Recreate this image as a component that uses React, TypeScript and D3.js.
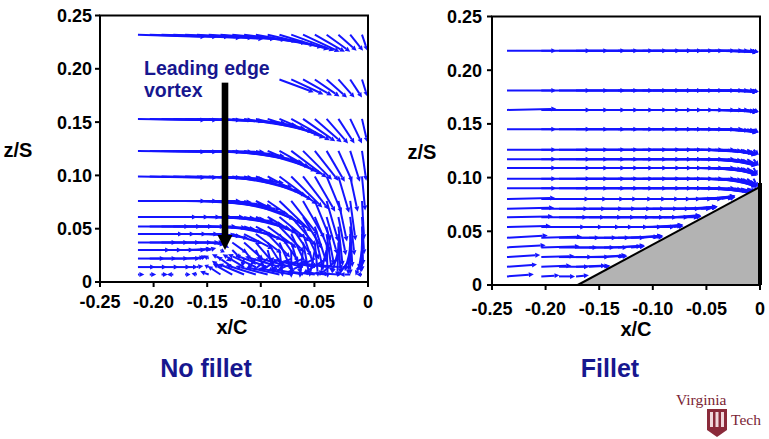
import React from "react";
import * as d3 from "d3";

// ---------- axis ticks ----------
const X_TICKS = [-0.25, -0.2, -0.15, -0.1, -0.05, 0];
const X_TICK_LABELS = ["-0.25", "-0.20", "-0.15", "-0.10", "-0.05", "0"];
const Z_TICKS = [0, 0.05, 0.1, 0.15, 0.2, 0.25];
const Z_TICK_LABELS = ["0", "0.05", "0.10", "0.15", "0.20", "0.25"];

// ---------- left panel (no fillet): vector grid, components in 1/1000 of axis units ----------
const LEFT_COLS = [-0.2146, -0.2036, -0.1926, -0.1816, -0.1706, -0.1596, -0.1486, -0.1376, -0.1266, -0.1156,
  -0.1046, -0.0936, -0.0826, -0.0716, -0.0606, -0.0496, -0.0386, -0.0276, -0.0166, -0.0056];
const LEFT_ROW_Z = [0.232, 0.19, 0.153, 0.123, 0.099, 0.076, 0.061, 0.052, 0.045, 0.037, 0.03, 0.022, 0.014, 0.007];
const LEFT_ROW_START = [0, 12, 0, 0, 0, 0, 0, 0, 0, 0, 0, 0, 0, 0];
const LEFT_U = [
  [63, 63, 63, 63, 63, 62, 62, 61, 60, 58, 55, 51, 46, 40, 34, 28, 22, 17, 12, 5],
  [32, 30, 27, 23, 19, 15, 11, 5],
  [63, 63, 63, 63, 63, 62, 62, 61, 60, 57, 53, 48, 42, 36, 30, 25, 20, 15, 11, 5],
  [63, 63, 63, 63, 63, 63, 62, 60, 58, 55, 50, 45, 39, 33, 27, 22, 17, 13, 9, 4],
  [63, 63, 63, 63, 63, 62, 61, 59, 56, 52, 47, 41, 35, 29, 24, 19, 14, 10, 7, 3],
  [63, 63, 63, 63, 62, 61, 59, 56, 52, 47, 42, 36, 30, 25, 20, 15, 11, 8, 5, 2],
  [55, 55, 55, 55, 55, 54, 52, 50, 47, 43, 38, 33, 28, 23, 18, 14, 10, 7, 4, 2],
  [48, 48, 48, 48, 48, 46, 43, 40, 38, 35, 31, 27, 23, 19, 15, 11, 7, 4, 2, 1],
  [42, 42, 42, 42, 40, 36, 30, 26, 28, 27, 24, 21, 18, 14, 11, 8, 5, 2, 0, 0],
  [36, 36, 36, 36, 32, 25, 15, 8, 14, 18, 17, 15, 12, 9, 6, 3, 1, -1, -2, -1],
  [30, 30, 30, 30, 24, 14, 7, 4, 8, 11, 9, 6, 3, 0, -3, -5, -6, -6, -5, -3],
  [25, 25, 25, 25, 18, 9, -5, -8, -6, -2, -8, -14, -18, -22, -24, -24, -22, -18, -12, -6],
  [16, 16, 16, 16, 12, 6, -4, -8, -14, -20, -26, -30, -32, -33, -32, -30, -26, -20, -12, -6],
  [6, 6, 6, -6, 5, -5, -8, -12, -18, -24, -28, -30, -31, -31, -29, -26, -22, -16, -10, -5],
];
const LEFT_W = [
  [-2, -2, -2, -3, -3, -4, -4, -5, -6, -8, -10, -12, -14, -15, -16, -16, -16, -15, -15, -15],
  [-12, -14, -15, -16, -17, -17, -17, -16],
  [-1, -1, -1, -1, -1, -2, -3, -4, -6, -9, -12, -15, -18, -20, -21, -22, -23, -23, -23, -22],
  [-1, -1, -1, -1, -1, -1, -3, -5, -8, -11, -15, -19, -22, -25, -27, -28, -29, -29, -29, -28],
  [-1, -1, -1, -1, -1, -2, -4, -6, -10, -14, -18, -22, -26, -29, -31, -33, -34, -34, -33, -32],
  [0, 0, 0, 0, -1, -3, -5, -8, -12, -17, -21, -25, -29, -32, -35, -37, -38, -38, -37, -36],
  [0, 0, 0, 0, 0, -1, -2, -4, -7, -11, -15, -19, -23, -27, -30, -33, -35, -36, -36, -35],
  [0, 0, 0, 0, 0, -1, -2, -4, -8, -12, -16, -20, -24, -28, -31, -34, -36, -37, -38, -36],
  [0, 0, 0, 0, 0, -1, -2, -4, -9, -14, -18, -22, -26, -29, -32, -34, -36, -37, -38, -35],
  [0, 0, 0, 0, 0, 0, -2, -5, -10, -16, -20, -24, -27, -29, -31, -32, -33, -32, -30, -28],
  [0, 0, 0, 0, 1, 1, 2, -2, -8, -14, -19, -22, -25, -26, -26, -25, -24, -22, -20, -18],
  [0, 0, 0, 0, 1, 2, 3, 4, -2, -8, -10, -12, -12, -12, -11, -12, -14, -16, -17, -16],
  [0, 0, 0, 0, 0, 1, 2, 6, 10, 12, 12, 11, 10, 9, 8, 6, 4, 2, 0, -2],
  [0, 0, 0, 0, 0, 1, 3, 8, 10, 10, 9, 8, 7, 6, 5, 3, 2, 1, 0, 0],
];

// ---------- right panel (fillet) ----------
const RIGHT_COLS = [-0.236, -0.204, -0.1875, -0.1716, -0.1595, -0.1455, -0.1325, -0.1203, -0.1095, -0.1001,
  -0.0896, -0.0802, -0.069, -0.0615, -0.055, -0.0485, -0.042, -0.036, -0.03, -0.024, -0.018, -0.012, -0.006];
const RIGHT_ROW_Z = [0.218, 0.181, 0.163, 0.145, 0.126, 0.117, 0.109, 0.099, 0.09, 0.08, 0.071, 0.063, 0.054,
  0.044, 0.035, 0.026, 0.017, 0.008];
const RIGHT_U = [
  [46, 46, 46, 46, 46, 46, 46, 46, 46, 46, 46, 46, 46, 46, 45, 44, 40, 34, 28, 22, 16, 10, 5],
  [46, 46, 46, 46, 46, 46, 46, 46, 46, 46, 46, 46, 46, 46, 45, 44, 40, 34, 28, 22, 16, 10, 5],
  [46, 46, 46, 46, 46, 46, 46, 46, 46, 46, 46, 46, 46, 46, 45, 44, 40, 34, 28, 22, 16, 10, 5],
  [46, 46, 46, 46, 46, 46, 46, 46, 46, 46, 46, 46, 46, 46, 45, 44, 40, 34, 28, 22, 16, 10, 5],
  [46, 46, 46, 46, 46, 46, 46, 46, 46, 46, 46, 46, 46, 45, 44, 42, 38, 33, 27, 21, 15, 10, 5],
  [46, 46, 46, 46, 46, 46, 46, 46, 46, 46, 46, 46, 46, 45, 44, 42, 38, 33, 27, 21, 15, 10, 5],
  [46, 46, 46, 46, 46, 46, 46, 46, 46, 46, 46, 46, 46, 45, 44, 42, 38, 33, 27, 21, 15, 9, 4],
  [46, 46, 46, 46, 46, 46, 46, 46, 46, 46, 46, 46, 46, 45, 44, 42, 38, 33, 27, 21, 15, 9, 4],
  [46, 46, 46, 46, 46, 46, 46, 46, 46, 46, 46, 46, 46, 45, 43, 41, 37, 32, 26, 20, 14, 8, 3],
  [45, 45, 45, 45, 45, 45, 45, 45, 45, 45, 45, 45, 44, 38, 32, 25, 19, 13, 7],
  [44, 44, 44, 44, 44, 44, 44, 44, 44, 44, 44, 40, 29, 22, 15, 9],
  [43, 43, 43, 43, 43, 43, 43, 43, 43, 43, 34, 25, 14, 7],
  [41, 41, 41, 41, 41, 41, 41, 41, 37, 28, 18, 9],
  [38, 38, 38, 38, 38, 38, 38, 29, 19, 10],
  [36, 36, 36, 36, 36, 35, 25, 13],
  [31, 31, 31, 31, 33, 21, 9],
  [28, 28, 28, 28, 19, 6],
  [25, 17, 15, 12],
];
const RIGHT_W = [
  [0, 0, 0, 0, 0, 0, 0, 0, 0, 0, 0, 0, 0, 0, 0, 0, -1, -1, -1, -1, -1, -1, -1],
  [0, 0, 0, 0, 0, 0, 0, 0, 0, 0, 0, 0, 0, 0, 0, 0, -1, -1, -1, -1, -1, -1, -1],
  [1, 0, 0, 0, 0, 0, 0, 0, 0, 0, 0, 0, 0, 0, 0, -1, -1, -1, -2, -2, -2, -2, -2],
  [0, 0, 0, 0, 0, 0, 0, 0, 0, 0, 0, 0, 0, 0, -1, -1, -2, -2, -3, -3, -3, -3, -3],
  [0, 0, 0, 0, 0, 0, 0, 0, 0, 0, 0, 0, 0, -1, -2, -3, -3, -4, -5, -5, -5, -5, -5],
  [0, 0, 0, 0, 0, 0, 0, 0, 0, 0, 0, 0, 0, -1, -2, -3, -4, -5, -6, -6, -6, -6, -6],
  [0, 0, 0, 0, 0, 0, 0, 0, 0, 0, 0, 0, 0, -1, -2, -3, -4, -5, -6, -7, -7, -7, -7],
  [0, 0, 0, 0, 0, 0, 0, 0, 0, 0, 0, 0, 0, -1, -2, -3, -4, -6, -7, -8, -8, -8, -8],
  [0, 0, 0, 0, 0, 0, 0, 0, 0, 0, 0, 0, 0, -1, -2, -3, -4, -5, -5, -5, -4, -3, -2],
  [1, 0, 0, 0, 0, 0, 0, 0, 0, 0, 0, 0, 1, 2, 2, 3, 3, 3, 2],
  [1, 0, 0, 0, 0, 0, 0, 0, 0, 0, 0, 1, 2, 2, 2, 2],
  [1, 0, 0, 0, 0, 0, 0, 0, 0, 0, 1, 2, 2, 1],
  [1, 0, 0, 0, 0, 0, 0, 0, 1, 2, 2, 1],
  [2, 1, 0, 0, 0, 0, 1, 2, 2, 1],
  [2, 1, 0, 0, 0, 1, 2, 1],
  [2, 1, 0, 0, 1, 2, 1],
  [2, 1, 0, 1, 1, 1],
  [2, 1, 0, 1],
];

// fillet geometry (x/C, z/S)
const FILLET_POINTS: [number, number][] = [[-0.17, 0], [0, 0.0914], [0, 0]];
const WALL_TOP = 0.095;
// "Leading edge vortex" pointer (x/C, z/S)
const VORTEX_ARROW = { x: -0.1334, zTop: 0.187, zHead: 0.044, zTip: 0.03 };

const FONT = "'Liberation Sans', Arial, sans-serif";
const BLUE = "#1414ff";
const NAVY = "#17178f";
const TICK_FS = 18;
const TITLE_FS = 20;

type Vec = { x: number; z: number; u: number; w: number };

function buildVectors(cols: number[], rowZ: number[], U: number[][], W: number[][], start?: number[]): Vec[] {
  const out: Vec[] = [];
  rowZ.forEach((z, r) => {
    const s = start ? start[r] : 0;
    U[r].forEach((u, i) => {
      out.push({ x: cols[s + i], z, u: u / 1000, w: W[r][i] / 1000 });
    });
  });
  return out;
}

function Arrow({ x1, y1, x2, y2 }: { x1: number; y1: number; x2: number; y2: number }) {
  const dx = x2 - x1, dy = y2 - y1;
  const len = Math.hypot(dx, dy) || 1;
  const ux = dx / len, uy = dy / len;
  const L = Math.min(5, len * 0.8), H = 2.5;
  const bx = x2 - ux * L, by = y2 - uy * L;
  const p = `M${x2},${y2}L${bx - uy * H},${by + ux * H}L${bx + uy * H},${by - ux * H}Z`;
  return (
    <g>
      <line x1={x1} y1={y1} x2={bx} y2={by} stroke={BLUE} strokeWidth={2} />
      <path d={p} fill={BLUE} />
    </g>
  );
}

function Panel({ x, z, vectors, yTickLabelX, xTickLabelY, xTitle, zTitle, children }: any) {
  const [x0, x1] = x.range();
  const [y0, y1] = z.range();
  return (
    <g>
      {vectors.map((v: Vec, i: number) => (
        <Arrow key={i} x1={x(v.x)} y1={z(v.z)} x2={x(v.x + v.u)} y2={z(v.z + v.w)} />
      ))}
      {children}
      <rect x={x0} y={y1} width={x1 - x0} height={y0 - y1} fill="none" stroke="#000" strokeWidth={2} />
      {Z_TICKS.map((t, i) => (
        <g key={"zt" + i}>
          <line x1={x0 - 5} x2={x0} y1={z(t)} y2={z(t)} stroke="#000" strokeWidth={2} />
          <text x={yTickLabelX} y={z(t)} dy="0.36em" textAnchor="end" fontFamily={FONT} fontWeight="bold" fontSize={TICK_FS}>
            {Z_TICK_LABELS[i]}
          </text>
        </g>
      ))}
      {X_TICKS.map((t, i) => (
        <g key={"xt" + i}>
          <line x1={x(t)} x2={x(t)} y1={y0} y2={y0 + 5} stroke="#000" strokeWidth={2} />
          <text x={x(t)} y={xTickLabelY} dy="0.36em" textAnchor="middle" fontFamily={FONT} fontWeight="bold" fontSize={TICK_FS}>
            {X_TICK_LABELS[i]}
          </text>
        </g>
      ))}
      <text x={xTitle[0]} y={xTitle[1]} dy="0.36em" textAnchor="middle" fontFamily={FONT} fontWeight="bold" fontSize={TITLE_FS}>
        x/C
      </text>
      <text x={zTitle[0]} y={zTitle[1]} dy="0.36em" textAnchor="middle" fontFamily={FONT} fontWeight="bold" fontSize={TITLE_FS}>
        z/S
      </text>
    </g>
  );
}

export default function App() {
  const xL = d3.scaleLinear().domain([-0.25, 0]).range([100, 368]);
  const zL = d3.scaleLinear().domain([0, 0.25]).range([282, 15.5]);
  const xR = d3.scaleLinear().domain([-0.25, 0]).range([492, 760]);
  const zR = d3.scaleLinear().domain([0, 0.25]).range([285, 16.5]);

  const leftVecs = buildVectors(LEFT_COLS, LEFT_ROW_Z, LEFT_U, LEFT_W, LEFT_ROW_START);
  const rightVecs = buildVectors(RIGHT_COLS, RIGHT_ROW_Z, RIGHT_U, RIGHT_W);

  const fillet = d3.line<[number, number]>().x((d) => xR(d[0])).y((d) => zR(d[1]))(FILLET_POINTS) + "Z";

  const ax = xL(VORTEX_ARROW.x);
  const ayTop = zL(VORTEX_ARROW.zTop), ayHead = zL(VORTEX_ARROW.zHead), ayTip = zL(VORTEX_ARROW.zTip);

  return (
    <svg width={769} height={439} style={{ position: "absolute", left: 0, top: 0, background: "#fff" }}>
      <rect width={769} height={439} fill="#fff" />
      <Panel x={xL} z={zL} vectors={leftVecs} yTickLabelX={92} xTickLabelY={302} xTitle={[232, 327]} zTitle={[18, 150]}>
        <text x={144} y={75} fontFamily={FONT} fontWeight="bold" fontSize={19.5} fill={NAVY}>Leading edge</text>
        <text x={144} y={97} fontFamily={FONT} fontWeight="bold" fontSize={19.5} fill={NAVY}>vortex</text>
        <rect x={ax - 3.3} y={ayTop} width={6.6} height={ayHead - ayTop} fill="#000" />
        <path d={`M${ax - 7.5},${ayHead}L${ax + 7.5},${ayHead}L${ax},${ayTip}Z`} fill="#000" />
      </Panel>
      <Panel x={xR} z={zR} vectors={rightVecs} yTickLabelX={482} xTickLabelY={309} xTitle={[636, 329]} zTitle={[422, 152]}>
        <path d={fillet} fill="#b3b3b3" stroke="none" />
        <line x1={xR(FILLET_POINTS[0][0])} y1={zR(FILLET_POINTS[0][1])} x2={xR(FILLET_POINTS[1][0])} y2={zR(FILLET_POINTS[1][1])} stroke="#000" strokeWidth={2} />
        <line x1={xR(0)} x2={xR(0)} y1={zR(0)} y2={zR(WALL_TOP)} stroke="#000" strokeWidth={4} />
      </Panel>
      <text x={206} y={368} dy="0.36em" textAnchor="middle" fontFamily={FONT} fontWeight="bold" fontSize={25} fill={NAVY}>No fillet</text>
      <text x={610} y={368} dy="0.36em" textAnchor="middle" fontFamily={FONT} fontWeight="bold" fontSize={25} fill={NAVY}>Fillet</text>
      <g>
        <text x={676} y={405} fontFamily="'Liberation Serif', 'DejaVu Serif', serif" fontSize={15.5} fill="#7a2434">Virginia</text>
        <rect x={707} y={409} width={20} height={21} fill="#8a2a3a" />
        <rect x={710} y={412} width={3} height={15} fill="#f0d8dc" />
        <rect x={715.5} y={412} width={3} height={15} fill="#f0d8dc" />
        <rect x={721} y={412} width={3} height={15} fill="#f0d8dc" />
        <path d="M707,430 L727,430 L717,437 Z" fill="#8a2a3a" />
        <text x={731} y={425} fontFamily="'Liberation Serif', 'DejaVu Serif', serif" fontSize={15.5} fill="#7a2434">Tech</text>
      </g>
    </svg>
  );
}
